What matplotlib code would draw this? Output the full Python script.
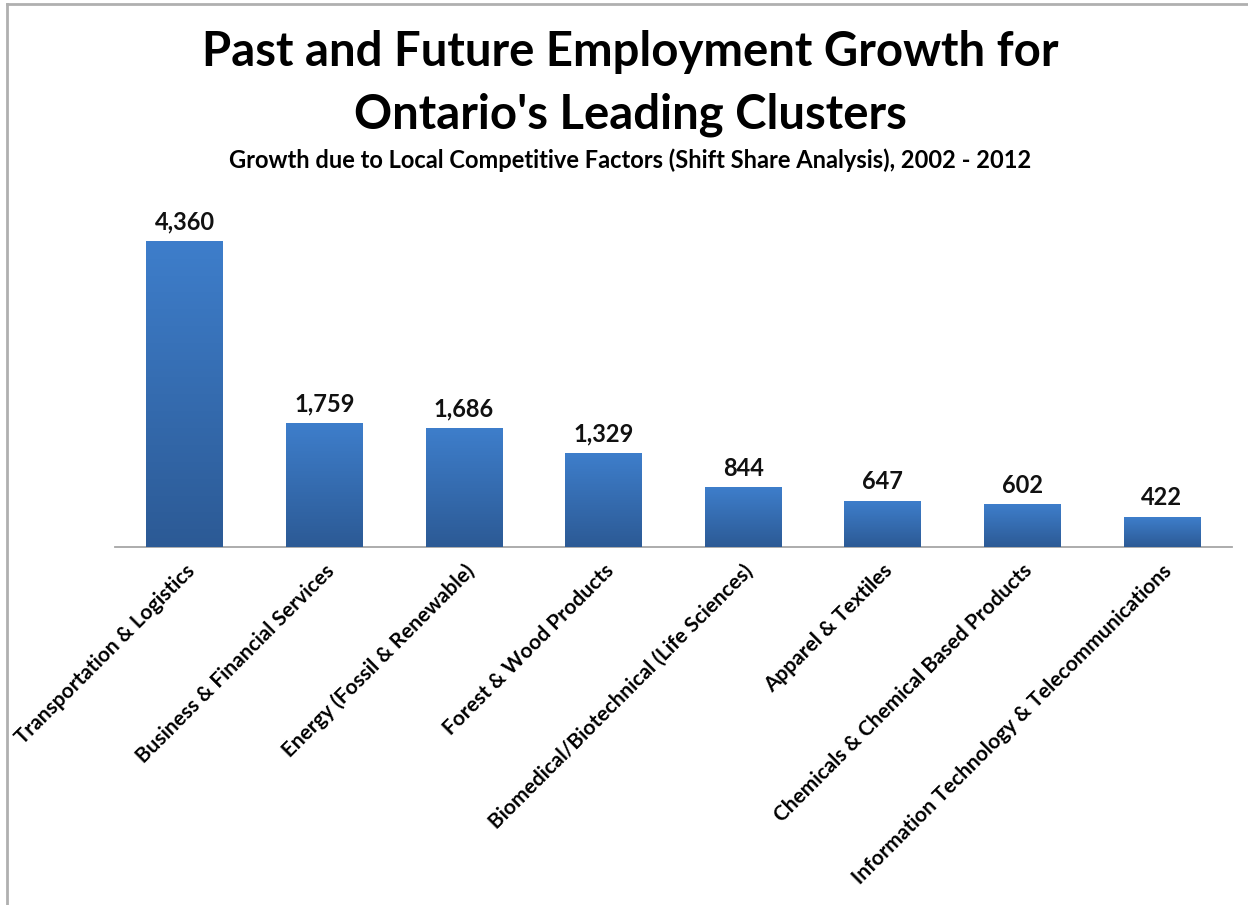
import numpy as np
import matplotlib
matplotlib.use("Agg")
import matplotlib.pyplot as plt
from matplotlib.colors import LinearSegmentedColormap
from matplotlib.lines import Line2D

plt.rcParams['font.family'] = ['Lato', 'DejaVu Sans']

categories = [
    "Transportation & Logistics",
    "Business & Financial Services",
    "Energy (Fossil & Renewable)",
    "Forest & Wood Products",
    "Biomedical/Biotechnical (Life Sciences)",
    "Apparel & Textiles",
    "Chemicals & Chemical Based Products",
    "Information Technology & Telecommunications",
]
values = [4360, 1759, 1686, 1329, 844, 647, 602, 422]

title_lines = ["Past and Future Employment Growth for", "Ontario's Leading Clusters"]
subtitle = "Growth due to Local Competitive Factors (Shift Share Analysis), 2002 - 2012"

fig = plt.figure(figsize=(12.48, 9.05), dpi=100)
ax = fig.add_axes([0.0921, 0.3956, 0.8949, 0.3867])

x = np.arange(len(categories))
width = 0.55
bars = ax.bar(x, values, width=width, color="none", edgecolor="none", zorder=2)

# vertical blue gradient inside each bar
cmap = LinearSegmentedColormap.from_list("barfill", ["#2c5a95", "#3e7ecb"])
grad = np.linspace(0, 1, 256).reshape(-1, 1)
for b in bars:
    x0, y0 = b.get_x(), b.get_y()
    w, h = b.get_width(), b.get_height()
    ax.imshow(grad, cmap=cmap, origin="lower", aspect="auto",
              extent=(x0, x0 + w, y0, y0 + h), zorder=3)

for xi, v in zip(x, values):
    ax.annotate(f"{v:,}", (xi, v), xytext=(0, 6), textcoords="offset points",
                ha="center", va="bottom", fontsize=17, fontweight="bold",
                color="#111111")

ax.set_xlim(-0.5, len(categories) - 0.5)
ax.set_ylim(0, 5000)
ax.set_yticks([])
ax.set_xticks(x)
ax.set_xticklabels(categories, rotation=45, ha="right", va="top",
                   rotation_mode="anchor", fontsize=15, fontweight="bold")
ax.tick_params(axis="x", length=0, pad=10)
for side in ("left", "right", "top"):
    ax.spines[side].set_visible(False)
ax.spines["bottom"].set_color("#a6a6a6")
ax.spines["bottom"].set_linewidth(1.3)
ax.set_facecolor("white")

fig.text(0.505, 1 - 52 / 905, title_lines[0], ha="center", va="center",
         fontsize=34, fontweight="bold", color="#000000")
fig.text(0.505, 1 - 115 / 905, title_lines[1], ha="center", va="center",
         fontsize=34, fontweight="bold", color="#000000")
fig.text(0.505, 1 - 160 / 905, subtitle, ha="center", va="center",
         fontsize=17, fontweight="bold", color="#000000")

# chart frame (left and top edges)
fig.add_artist(Line2D([0.0056, 0.0056], [0.0, 0.9956], transform=fig.transFigure,
                      color="#b0b0b0", linewidth=2))
fig.add_artist(Line2D([0.0056, 1.0], [0.9956, 0.9956], transform=fig.transFigure,
                      color="#b0b0b0", linewidth=2))

fig.savefig("out.png", dpi=100, facecolor="white")
